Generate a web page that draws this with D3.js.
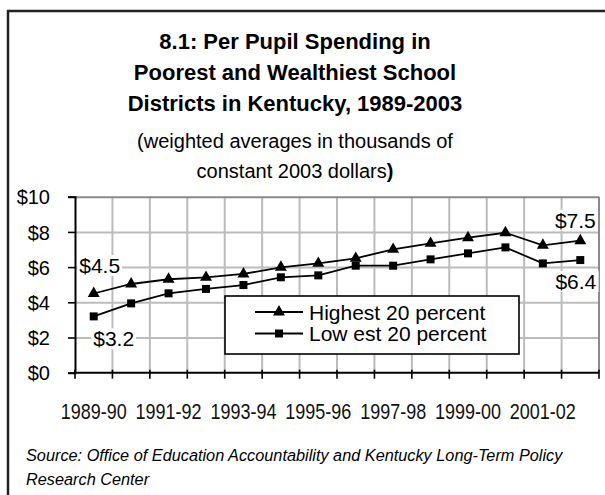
<!DOCTYPE html>
<html>
<head>
<meta charset="utf-8">
<script src="https://cdn.jsdelivr.net/npm/d3@7"></script>
<style>
  html, body { margin: 0; padding: 0; background: #fff; }
  svg { display: block; }
  .sans { font-family: Arial, "Liberation Sans", Helvetica, sans-serif; }
</style>
</head>
<body>
<svg id="chart" width="605" height="495"></svg>
<script>
// School years, 1989-90 through 2002-03
const years = ["1989-90","1990-91","1991-92","1992-93","1993-94","1994-95","1995-96",
               "1996-97","1997-98","1998-99","1999-00","2000-01","2001-02","2002-03"];

// Weighted average per-pupil spending, thousands of constant 2003 dollars
const highest = [4.5, 5.04, 5.31, 5.42, 5.61, 5.99, 6.21, 6.50, 7.01, 7.35, 7.67, 7.95, 7.24, 7.5];
const lowest  = [3.2, 3.94, 4.51, 4.76, 4.98, 5.42, 5.53, 6.08, 6.08, 6.44, 6.78, 7.12, 6.21, 6.4];

const yTicks = [0, 2, 4, 6, 8, 10];
const xTickLabels = ["1989-90","1991-92","1993-94","1995-96","1997-98","1999-00","2001-02"];

const titleLines = ["8.1:  Per Pupil Spending in",
                    "Poorest and Wealthiest School",
                    "Districts in Kentucky, 1989-2003"];
const sourceLines = ["Source: Office of Education Accountability and Kentucky Long-Term Policy",
                     "Research Center"];

const svg = d3.select("#chart");

// plot area
const plotLeft = 75, plotRight = 599, plotTop = 196.7, plotBottom = 372.7;

const x = d3.scaleBand().domain(years).range([plotLeft, plotRight]).padding(0);
const y = d3.scaleLinear().domain([0, 10]).range([plotBottom, plotTop]);
const cx = d => x(d) + x.bandwidth() / 2;

// vertical gridlines on category boundaries
const gridX = svg.append("g")
  .attr("transform", `translate(0,${plotBottom})`)
  .call(d3.axisBottom(x).tickSize(-(plotBottom - plotTop)).tickFormat("").tickSizeOuter(0));
gridX.select(".domain").remove();
gridX.selectAll(".tick")
  .attr("transform", d => `translate(${x(d)},0)`);
gridX.selectAll(".tick line")
  .attr("stroke", "#bcbcbc").attr("stroke-width", 2);
gridX.selectAll(".tick").filter((d, i) => i === 0).remove();

// horizontal gridlines; the top one closes the plot area
const gridY = svg.append("g")
  .attr("transform", `translate(${plotLeft},0)`)
  .call(d3.axisLeft(y).tickValues(yTicks.slice(1)).tickSize(-(plotRight - plotLeft)).tickFormat(""));
gridY.select(".domain").remove();
gridY.selectAll(".tick line")
  .attr("stroke", d => d === 10 ? "#8a8a8a" : "#bcbcbc").attr("stroke-width", 2);

// right edge of the plot area
svg.append("line")
  .attr("x1", plotRight).attr("x2", plotRight).attr("y1", plotTop).attr("y2", plotBottom)
  .attr("stroke", "#8a8a8a").attr("stroke-width", 2);

// outer frame (runs off the right and bottom edges)
svg.append("rect")
  .attr("x", 8).attr("y", 11).attr("width", 620).attr("height", 520)
  .attr("fill", "none").attr("stroke", "#222").attr("stroke-width", 2.5);

// titles
const title = svg.append("g").attr("class", "sans").attr("text-anchor", "middle");
title.selectAll("text.t").data(titleLines).join("text")
  .attr("class", "t")
  .attr("x", 295).attr("y", (d, i) => 48.5 + i * 31.3)
  .attr("font-size", 22).attr("font-weight", "bold").attr("fill", "#000")
  .text(d => d);
title.append("text")
  .attr("x", 295).attr("y", 147.5)
  .attr("font-size", 20).attr("fill", "#000")
  .text("(weighted averages in thousands of");
const sub2 = title.append("text")
  .attr("x", 295).attr("y", 177.5)
  .attr("font-size", 20).attr("fill", "#000");
sub2.append("tspan").text("constant 2003 dollars");
sub2.append("tspan").attr("font-weight", "bold").text(")");

// y axis
const yAxis = svg.append("g")
  .attr("transform", `translate(${plotLeft},0)`)
  .call(d3.axisLeft(y).tickValues(yTicks).tickSize(7).tickPadding(18)
        .tickFormat(d => "$" + d));
yAxis.select(".domain").attr("stroke", "#000").attr("stroke-width", 2);
yAxis.selectAll(".tick line").attr("stroke", "#000").attr("stroke-width", 1.6);
yAxis.selectAll(".tick text")
  .attr("class", "sans").attr("font-size", 20).attr("fill", "#000")
  .attr("dy", "0.36em");

// x axis: ticks on category boundaries, labels every other year
const xAxis = svg.append("g").attr("transform", `translate(0,${plotBottom})`);
xAxis.append("line")
  .attr("x1", plotLeft).attr("x2", plotRight).attr("y1", 0).attr("y2", 0)
  .attr("stroke", "#000").attr("stroke-width", 2);
const boundaries = years.map(d => x(d)).concat([plotRight]);
boundaries.forEach(bx => {
  xAxis.append("line")
    .attr("x1", bx).attr("x2", bx).attr("y1", -3).attr("y2", 6)
    .attr("stroke", "#000").attr("stroke-width", 1.6);
});
xTickLabels.forEach(d => {
  xAxis.append("text")
    .attr("class", "sans")
    .attr("x", cx(d)).attr("y", 46)
    .attr("text-anchor", "middle").attr("font-size", 22.5).attr("fill", "#111")
    .attr("textLength", 66).attr("lengthAdjust", "spacingAndGlyphs")
    .text(d);
});

// series
const line = d3.line().x((d, i) => cx(years[i])).y(d => y(d));
const series = [
  { name: "Highest 20 percent", values: highest, symbol: d3.symbolTriangle, size: 62 },
  { name: "Low est 20 percent", values: lowest, symbol: d3.symbolSquare, size: 64 }
];

series.forEach(s => {
  svg.append("path")
    .datum(s.values)
    .attr("d", line)
    .attr("fill", "none").attr("stroke", "#000").attr("stroke-width", 1.8);
  svg.append("g").selectAll("path").data(s.values).join("path")
    .attr("transform", (d, i) => `translate(${cx(years[i])},${y(d)})`)
    .attr("d", d3.symbol().type(s.symbol).size(s.size))
    .attr("fill", "#000");
});

// value labels at the ends of each series, on white backing
const fmt = v => "$" + d3.format(".1f")(v);
const last = years.length - 1;
const endLabels = [
  { v: highest[0], i: 0, dx: -14.5, dy: -20.5, anchor: "start" },
  { v: lowest[0],  i: 0, dx: -0.5,  dy: 30,    anchor: "start" },
  { v: highest[last], i: last, dx: 15.5, dy: -13, anchor: "end" },
  { v: lowest[last],  i: last, dx: 16,   dy: 29,  anchor: "end" }
];
const lab = svg.append("g").attr("class", "sans");
endLabels.forEach(l => {
  const t = lab.append("text")
    .attr("x", cx(years[l.i]) + l.dx).attr("y", y(l.v) + l.dy)
    .attr("text-anchor", l.anchor).attr("font-size", 21).attr("fill", "#000")
    .text(fmt(l.v));
  const b = t.node().getBBox();
  lab.insert("rect", () => t.node())
    .attr("x", b.x - 2).attr("y", b.y + 1).attr("width", b.width + 4).attr("height", b.height - 2)
    .attr("fill", "#fff");
});

// legend
const lg = svg.append("g");
lg.append("rect")
  .attr("x", 225).attr("y", 296).attr("width", 294).attr("height", 58)
  .attr("fill", "#fff").attr("stroke", "#000").attr("stroke-width", 1.6);
series.forEach((s, k) => {
  const ry = 312 + k * 21.5;
  lg.append("line").attr("x1", 255).attr("x2", 303).attr("y1", ry).attr("y2", ry)
    .attr("stroke", "#000").attr("stroke-width", 1.8);
  lg.append("path").attr("transform", `translate(279,${ry})`)
    .attr("d", d3.symbol().type(s.symbol).size(s.size)).attr("fill", "#000");
  lg.append("text").attr("class", "sans")
    .attr("x", 309).attr("y", ry + 7.5)
    .attr("font-size", 21).attr("fill", "#000")
    .text(s.name);
});

// source note
svg.append("g").attr("class", "sans")
  .selectAll("text").data(sourceLines).join("text")
  .attr("x", 26).attr("y", (d, i) => 460.7 + i * 24.3)
  .attr("font-size", 16.3).attr("font-style", "italic").attr("fill", "#000")
  .text(d => d);
</script>
</body>
</html>
